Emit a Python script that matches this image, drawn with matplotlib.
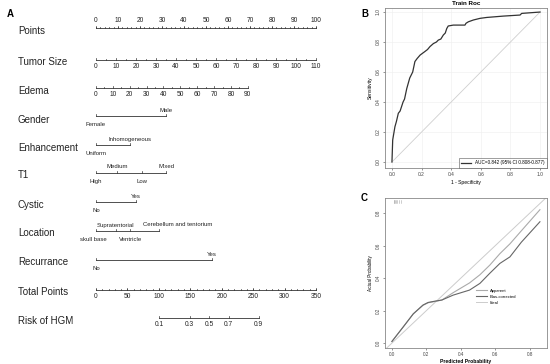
import matplotlib
matplotlib.use('Agg')
import matplotlib.pyplot as plt

plt.rcParams['font.family'] = ['Liberation Sans', 'DejaVu Sans']

# ---- panel A: nomogram values (all positions in "points", 0-100) ----
points_ticks = [0, 10, 20, 30, 40, 50, 60, 70, 80, 90, 100]
tumor_size_vals = [0, 10, 20, 30, 40, 50, 60, 70, 80, 90, 100, 110]
tumor_size_max_pts = 100
edema_vals = [0, 10, 20, 30, 40, 50, 60, 70, 80, 90]
edema_max_pts = 69

gender_levels = ['Female', 'Male']
gender_pts = [0, 32]
enh_levels = ['Uniform', 'Inhomogeneous']
enh_pts = [0, 15.5]
t1_levels = ['High', 'Medium', 'Low', 'Mixed']
t1_pts = [0, 9.5, 21, 32]
cystic_levels = ['No', 'Yes']
cystic_pts = [0, 18]
location_levels = ['skull base', 'Supratentorial', 'Ventricle', 'Cerebellum and tentorium']
location_pts = [0, 9, 15.5, 28.6]
recur_levels = ['No', 'Yes']
recur_pts = [0, 52.5]

total_points_ticks = [0, 50, 100, 150, 200, 250, 300, 350]
total_points_max = 350
risk_vals = [0.1, 0.3, 0.5, 0.7, 0.9]
risk_total_points = [100, 149, 180, 211, 259]

# ---- panel B: ROC ----
roc_fpr = [0.0, 0.005, 0.02, 0.03, 0.043, 0.055, 0.065, 0.075, 0.085, 0.1, 0.12, 0.14, 0.155,
           0.17, 0.19, 0.22, 0.24, 0.257, 0.28, 0.3, 0.313, 0.33, 0.347, 0.36, 0.37, 0.38,
           0.414, 0.493, 0.5, 0.516, 0.55, 0.595, 0.64, 0.752, 0.865, 0.876, 1.0]
roc_tpr = [0.0, 0.147, 0.235, 0.27, 0.325, 0.34, 0.37, 0.40, 0.42, 0.49, 0.56, 0.6, 0.67,
           0.69, 0.713, 0.735, 0.75, 0.77, 0.79, 0.80, 0.813, 0.82, 0.847, 0.86, 0.89, 0.907,
           0.913, 0.913, 0.925, 0.935, 0.947, 0.958, 0.964, 0.973, 0.98, 0.991, 1.0]
roc_label = 'AUC=0.842 (95% CI 0.808-0.877)'

# ---- panel C: calibration ----
cal_pred = [0.0, 0.066, 0.124, 0.18, 0.21, 0.25, 0.29, 0.355, 0.45, 0.51, 0.568, 0.626, 0.684, 0.75, 0.858]
cal_apparent = [0.01, 0.1, 0.18, 0.232, 0.248, 0.256, 0.265, 0.31, 0.37, 0.42, 0.48, 0.55, 0.61, 0.69, 0.82]
cal_bias = [0.01, 0.1, 0.18, 0.234, 0.25, 0.258, 0.265, 0.295, 0.326, 0.367, 0.43, 0.49, 0.53, 0.62, 0.746]
ideal = [-0.05, 0.95]
rug_pred = [0.01, 0.015, 0.02, 0.025, 0.03, 0.04, 0.05]

fig = plt.figure(figsize=(5.5, 3.64), dpi=100)

# ================= A =================
axA = fig.add_axes([0, 0, 370 / 550, 1])
axA.set_xlim(-96 / 2.2, (370 - 96) / 2.2)
axA.set_ylim(364, 0)
axA.axis('off')

lc = '#333333'
name_fs = 7
tick_fs = 4.8
lev_fs = 4.3


def name(y, s):
    axA.text(-35.5, y, s, fontsize=name_fs, va='center', ha='left', color='#222222')


def cont_axis(y, xs, labels, minor=None, above=False, lab_fs=tick_fs):
    axA.plot([xs[0], xs[-1]], [y, y], color=lc, lw=0.6)
    if minor:
        for m in minor:
            axA.plot([m, m], [y, y - 1.5], color=lc, lw=0.5)
    for x, s in zip(xs, labels):
        axA.plot([x, x], [y, y - 2.5], color=lc, lw=0.5)
        axA.text(x, y - 7 if above else y + 7, s, fontsize=lab_fs, ha='center', va='center', color='#222222')


def cat_axis(y, pts, levels, shift=None):
    axA.plot([min(pts), max(pts)], [y, y], color=lc, lw=0.6)
    for i, (x, s) in enumerate(zip(pts, levels)):
        axA.plot([x, x], [y, y - 2.5], color=lc, lw=0.5)
        dx = shift.get(s, 0) if shift else 0
        ty = y + 8.5 if i % 2 == 0 else y - 6
        axA.text(x + dx, ty, s, fontsize=lev_fs, ha='center', va='center', color='#222222')


# Points
name(31, 'Points')
minor_pts = [v for v in range(0, 101, 2)]
axA.plot([0, 100], [28, 28], color=lc, lw=0.6)
for m in minor_pts:
    axA.plot([m, m], [28, 26.5], color=lc, lw=0.5)
for p in points_ticks:
    axA.plot([p, p], [28, 26], color=lc, lw=0.5)
    axA.text(p, 21, str(p), fontsize=tick_fs, ha='center', va='center', color='#222222')

# Tumor Size
name(62, 'Tumor Size')
ts_x = [v * tumor_size_max_pts / tumor_size_vals[-1] for v in tumor_size_vals]
ts_minor = [(v + 5) * tumor_size_max_pts / tumor_size_vals[-1] for v in tumor_size_vals[:-1]]
cont_axis(60, ts_x, [str(v) for v in tumor_size_vals], minor=ts_minor)

# Edema
name(91, 'Edema')
ed_x = [v * edema_max_pts / edema_vals[-1] for v in edema_vals]
ed_minor = [(v + 5) * edema_max_pts / edema_vals[-1] for v in edema_vals[:-1]]
cont_axis(88, ed_x, [str(v) for v in edema_vals], minor=ed_minor)

name(120, 'Gender')
cat_axis(116, gender_pts, gender_levels)
name(148, 'Enhancement')
cat_axis(145, enh_pts, enh_levels)
name(175, 'T1')
cat_axis(173, t1_pts, t1_levels)
name(205, 'Cystic')
cat_axis(202, cystic_pts, cystic_levels)
name(233, 'Location')
cat_axis(231, location_pts, location_levels, shift={'Cerebellum and tentorium': 8.6, 'skull base': -1})
name(262, 'Recurrance')
cat_axis(260, recur_pts, recur_levels)

# Total Points
name(292, 'Total Points')
tp_x = [v * 100 / total_points_max for v in total_points_ticks]
tp_minor = [v * 100 / total_points_max for v in range(0, total_points_max + 1, 10)]
cont_axis(290, tp_x, [str(v) for v in total_points_ticks], minor=tp_minor)

# Risk
name(321, 'Risk of HGM')
rk_x = [v * 100 / total_points_max for v in risk_total_points]
cont_axis(318, rk_x, [str(v) for v in risk_vals])

fig.text(7 / 550, 1 - 14 / 364, 'A', fontsize=7, fontweight='bold', ha='left', va='center')
fig.text(361 / 550, 1 - 14 / 364, 'B', fontsize=7, fontweight='bold', ha='left', va='center')
fig.text(361 / 550, 1 - 198 / 364, 'C', fontsize=7, fontweight='bold', ha='left', va='center')

box_c = '#888888'

# ================= B =================
axB = fig.add_axes([385 / 550, 1 - 168 / 364, 162 / 550, 160 / 364])
axB.plot([0, 1], [0, 1], color='#cfcfcf', lw=0.6)
axB.plot(roc_fpr, roc_tpr, color='#333333', lw=0.9, label=roc_label)
axB.set_xlim(-0.047, 1.047)
axB.set_ylim(-0.04, 1.027)
axB.set_xticks([0, 0.2, 0.4, 0.6, 0.8, 1.0])
axB.set_yticks([0, 0.2, 0.4, 0.6, 0.8, 1.0])
axB.set_xticklabels(['0.0', '0.2', '0.4', '0.6', '0.8', '1.0'])
axB.set_yticklabels(['0.0', '0.2', '0.4', '0.6', '0.8', '1.0'], rotation=90, va='center')
axB.tick_params(labelsize=3.5, length=1.5, width=0.4, pad=1.5, colors='#444444')
axB.grid(color='#eeeeee', lw=0.4)
for s in axB.spines.values():
    s.set_color(box_c)
    s.set_linewidth(0.6)
axB.set_title('Train Roc', fontsize=4.5, fontweight='bold', pad=2)
axB.set_xlabel('1 - Specificity', fontsize=3.6, labelpad=2)
axB.set_ylabel('Sensitivity', fontsize=3.6, labelpad=2)
legB = axB.legend(loc='lower right', fontsize=3.3, handlelength=2.2, borderpad=0.5,
                  fancybox=False, edgecolor='#555555', borderaxespad=0.1)
legB.get_frame().set_linewidth(0.5)

# ================= C =================
axC = fig.add_axes([385 / 550, 1 - 348 / 364, 162 / 550, 150 / 364])
axC.plot(ideal, ideal, color='#cccccc', lw=0.7, label='Ideal')
axC.plot(cal_pred, cal_apparent, color='#aaaaaa', lw=0.8, label='Apparent')
axC.plot(cal_pred, cal_bias, color='#666666', lw=0.8, label='Bias-corrected')
for r in rug_pred:
    axC.plot([r, r], [0.86, 0.88], color='#aaaaaa', lw=0.4)
axC.set_xlim(-0.04, 0.899)
axC.set_ylim(-0.03, 0.892)
axC.set_xticks([0, 0.2, 0.4, 0.6, 0.8])
axC.set_yticks([0, 0.2, 0.4, 0.6, 0.8])
axC.set_xticklabels(['0.0', '0.2', '0.4', '0.6', '0.8'])
axC.set_yticklabels(['0.0', '0.2', '0.4', '0.6', '0.8'], rotation=90, va='center')
axC.tick_params(labelsize=3.3, length=1.5, width=0.4, pad=1.5, colors='#444444')
for s in axC.spines.values():
    s.set_color(box_c)
    s.set_linewidth(0.6)
axC.set_xlabel('Predicted Probability', fontsize=3.6, fontweight='bold', labelpad=1.5)
axC.set_ylabel('Actual Probability', fontsize=3.3, labelpad=2)
h, l = axC.get_legend_handles_labels()
order = [1, 2, 0]
axC.legend([h[i] for i in order], [l[i] for i in order], loc='upper left',
           bbox_to_anchor=(0.54, 0.42), fontsize=3.0, frameon=False,
           handlelength=2.5, labelspacing=0.5)

fig.savefig('out.png', dpi=100)
